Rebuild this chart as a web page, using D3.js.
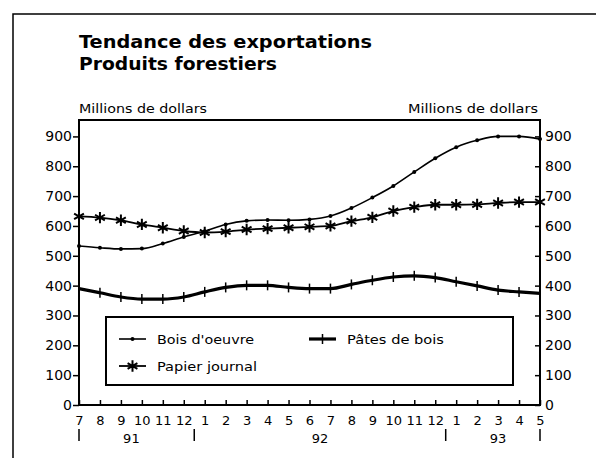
<!DOCTYPE html>
<html>
<head>
<meta charset="utf-8">
<script src="https://cdn.jsdelivr.net/npm/d3@7"></script>
<style>
  body { margin: 0; background: #fff; }
  svg { display: block; font-family: "DejaVu Sans", "Liberation Sans", Arial, sans-serif; }
</style>
</head>
<body>
<svg id="chart" width="596" height="458"></svg>
<script>
// month labels, Jul 1991 .. May 1993
var months = ["7","8","9","10","11","12","1","2","3","4","5","6","7","8","9","10","11","12","1","2","3","4","5"];
var years = [{label: "91", at: 2.5}, {label: "92", at: 11.5}, {label: "93", at: 20}];
var yearBreaks = [0, 5.5, 17.5, 22];
var yTicks = [0, 100, 200, 300, 400, 500, 600, 700, 800, 900];

// Bois d'oeuvre
var bois = [533, 527, 523, 524, 541, 563, 582, 605, 617, 620, 619, 622, 633, 660, 695, 734, 781, 827, 864, 887, 900, 900, 891];
// Papier journal
var papier = [632, 628, 619, 605, 594, 583, 578, 581, 588, 591, 594, 597, 600, 616, 629, 650, 663, 671, 671, 672, 677, 680, 680];
// Pâtes de bois
var pates = [390, 376, 362, 355, 355, 362, 379, 394, 401, 401, 394, 390, 390, 404, 418, 429, 433, 427, 413, 399, 385, 379, 374];

var svg = d3.select("#chart");
var FONT = "\"DejaVu Sans\", \"Liberation Sans\", Arial, sans-serif";

var x = d3.scaleLinear().domain([0, months.length - 1]).range([79, 540]);
var y = d3.scaleLinear().domain([0, 955]).range([405, 120]);

// outer frame
svg.append("path")
  .attr("d", "M13,458 V14 H596")
  .attr("fill", "none").attr("stroke", "#000").attr("stroke-width", 1.5);

// title
var title = svg.append("text")
  .attr("x", 79).attr("y", 48)
  .style("font-size", "18px").style("font-weight", "bold");
title.append("tspan").attr("x", 79).attr("textLength", 293).attr("lengthAdjust", "spacingAndGlyphs")
  .text("Tendance des exportations");
title.append("tspan").attr("x", 79).attr("dy", 22).attr("textLength", 198).attr("lengthAdjust", "spacingAndGlyphs")
  .text("Produits forestiers");

svg.append("text").attr("x", 79).attr("y", 113)
  .attr("textLength", 128).attr("lengthAdjust", "spacingAndGlyphs")
  .style("font-size", "12.5px").text("Millions de dollars");
svg.append("text").attr("x", 408).attr("y", 113)
  .attr("textLength", 130).attr("lengthAdjust", "spacingAndGlyphs")
  .style("font-size", "12.5px").text("Millions de dollars");

// plot frame
svg.append("rect")
  .attr("x", x(0)).attr("y", y(955))
  .attr("width", x(22) - x(0)).attr("height", y(0) - y(955))
  .attr("fill", "none").attr("stroke", "#000").attr("stroke-width", 2);

// left axis (ticks outside), right axis (ticks inside)
var left = svg.append("g").attr("transform", "translate(" + x(0) + ",0)")
  .call(d3.axisLeft(y).tickValues(yTicks).tickSize(6).tickPadding(1));
var right = svg.append("g").attr("transform", "translate(" + x(22) + ",0)")
  .call(d3.axisRight(y).tickValues(yTicks).tickSizeInner(-5).tickSizeOuter(0).tickPadding(5));
[left, right].forEach(function(a) {
  a.select(".domain").remove();
  a.selectAll("line").attr("stroke-width", 1.5);
  a.selectAll("text").style("font-size", "14px").style("font-family", FONT).attr("fill", "#000");
});

// bottom axis: month ticks pointing up
var bottom = svg.append("g").attr("transform", "translate(0," + y(0) + ")")
  .call(d3.axisBottom(x).tickValues(d3.range(months.length))
    .tickSizeInner(-5).tickSizeOuter(0).tickPadding(11)
    .tickFormat(function(i) { return months[i]; }));
bottom.select(".domain").remove();
bottom.selectAll("line").attr("stroke-width", 1.5);
bottom.selectAll("text").style("font-size", "13px").style("font-family", FONT).attr("fill", "#000");

svg.selectAll(".ybreak").data(yearBreaks).enter().append("line")
  .attr("x1", function(d) { return x(d); }).attr("x2", function(d) { return x(d); })
  .attr("y1", 429).attr("y2", 441)
  .attr("stroke", "#000").attr("stroke-width", 1.5);
svg.selectAll(".year").data(years).enter().append("text")
  .attr("x", function(d) { return x(d.at); }).attr("y", 443)
  .attr("text-anchor", "middle").style("font-size", "13px")
  .text(function(d) { return d.label; });

var line = d3.line()
  .x(function(d, i) { return x(i); })
  .y(function(d) { return y(d); })
  .curve(d3.curveMonotoneX);

// Bois d'oeuvre
svg.append("path").attr("d", line(bois))
  .attr("fill", "none").attr("stroke", "#000").attr("stroke-width", 1.6);
svg.selectAll(".bois").data(bois).enter().append("circle")
  .attr("cx", function(d, i) { return x(i); }).attr("cy", function(d) { return y(d); })
  .attr("r", 2).attr("fill", "#000");

// Papier journal
svg.append("path").attr("d", line(papier))
  .attr("fill", "none").attr("stroke", "#000").attr("stroke-width", 1.8);
var star = d3.symbol().type(d3.symbolAsterisk).size(90);
svg.selectAll(".papier").data(papier).enter().append("path")
  .attr("transform", function(d, i) { return "translate(" + x(i) + "," + y(d) + ")"; })
  .attr("d", star).attr("fill", "none").attr("stroke", "#000").attr("stroke-width", 2);

// Pâtes de bois
svg.append("path").attr("d", line(pates))
  .attr("fill", "none").attr("stroke", "#000").attr("stroke-width", 3.2);
svg.selectAll(".pates").data(pates).enter().append("line")
  .attr("x1", function(d, i) { return x(i); }).attr("x2", function(d, i) { return x(i); })
  .attr("y1", function(d) { return y(d) - 5; }).attr("y2", function(d) { return y(d) + 5; })
  .attr("stroke", "#000").attr("stroke-width", 1.5);

// legend
var lg = svg.append("g");
lg.append("rect").attr("x", 106).attr("y", 317).attr("width", 407).attr("height", 68)
  .attr("fill", "#fff").attr("stroke", "#000").attr("stroke-width", 2);

var legendItems = [
  {name: "Bois d'oeuvre", lx: 119, ly: 339, w: 1.6, mark: "dot", len: 97},
  {name: "Papier journal", lx: 119, ly: 366, w: 1.8, mark: "star", len: 100},
  {name: "Pâtes de bois", lx: 309, ly: 339, w: 3.2, mark: "tick", len: 97}
];
legendItems.forEach(function(it) {
  lg.append("line").attr("x1", it.lx).attr("x2", it.lx + 27)
    .attr("y1", it.ly).attr("y2", it.ly)
    .attr("stroke", "#000").attr("stroke-width", it.w);
  var cx = it.lx + 13.5;
  if (it.mark === "dot") {
    lg.append("circle").attr("cx", cx).attr("cy", it.ly).attr("r", 2);
  } else if (it.mark === "star") {
    lg.append("path").attr("transform", "translate(" + cx + "," + it.ly + ")")
      .attr("d", star).attr("fill", "none").attr("stroke", "#000").attr("stroke-width", 2);
  } else {
    lg.append("line").attr("x1", cx).attr("x2", cx).attr("y1", it.ly - 5).attr("y2", it.ly + 5)
      .attr("stroke", "#000").attr("stroke-width", 1.5);
  }
  lg.append("text").attr("x", it.lx + 38).attr("y", it.ly + 5)
    .attr("textLength", it.len).attr("lengthAdjust", "spacingAndGlyphs")
    .style("font-size", "13px").text(it.name);
});
</script>
</body>
</html>
